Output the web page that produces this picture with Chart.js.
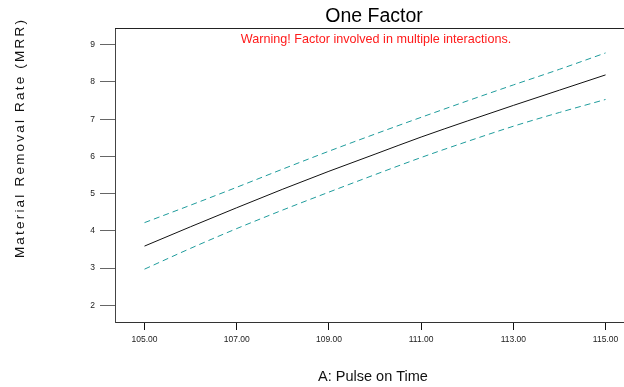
<!DOCTYPE html>
<html>
<head>
<meta charset="utf-8">
<script src="https://cdn.jsdelivr.net/npm/chart.js@4/dist/chart.umd.min.js"></script>
<style>
html,body{margin:0;padding:0;background:#fff;}
#wrap{width:624px;height:387px;position:relative;}
</style>
</head>
<body>
<div id="wrap"><canvas id="c" width="624" height="387"></canvas></div>
<script>
const xValues = [105,106,107,108,109,110,111,112,113,114,115];
const predicted = [3.59,4.11,4.62,5.12,5.60,6.06,6.52,6.95,7.37,7.78,8.19];
const upperCI  = [4.22,4.69,5.17,5.66,6.14,6.60,7.05,7.49,7.92,8.34,8.78];
const lowerCI  = [2.97,3.53,4.06,4.56,5.04,5.51,5.97,6.40,6.81,7.18,7.53];
const xTicks = [105,107,109,111,113,115];
const yTicks = [2,3,4,5,6,7,8,9];
const titleText = "One Factor";
const warningText = "Warning! Factor involved in multiple interactions.";
const xTitle = "A: Pulse on Time";
const yTitle = "Material Removal Rate (MRR)";

const pts = arr => xValues.map((x,i)=>({x:x,y:arr[i]}));
const FONT = "'Liberation Sans', Arial, sans-serif";

const textPlugin = {
  id:'texts',
  afterDraw(chart){
    const ctx = chart.ctx, a = chart.chartArea;
    ctx.save();
    ctx.strokeStyle = '#222'; ctx.lineWidth = 1;
    ctx.beginPath(); ctx.moveTo(a.left, a.top+0.5); ctx.lineTo(a.right, a.top+0.5); ctx.stroke();
    ctx.textAlign='center'; ctx.textBaseline='middle';
    ctx.fillStyle='#000';
    ctx.font = "19.5px " + FONT;
    ctx.fillText(titleText, 374, 17);
    ctx.fillStyle='#ff1a1a';
    ctx.font = "12.6px " + FONT;
    ctx.fillText(warningText, 376, 40);
    ctx.fillStyle='#111';
    ctx.font = "14.5px " + FONT;
    ctx.fillText(xTitle, 373, 377);
    ctx.translate(20, 138);
    ctx.rotate(-Math.PI/2);
    ctx.font = "13.5px " + FONT;
    ctx.fillStyle='#111';
    ctx.letterSpacing = '2.2px';
    ctx.fillText(yTitle, 0, 0);
    ctx.restore();
  }
};

new Chart(document.getElementById('c'), {
  type:'line',
  data:{
    datasets:[
      {data:pts(predicted), borderColor:'#111', borderWidth:1, pointRadius:0, cubicInterpolationMode:'monotone', fill:false},
      {data:pts(upperCI), borderColor:'#1f9c9c', borderWidth:1, borderDash:[6,4], pointRadius:0, cubicInterpolationMode:'monotone', fill:false},
      {data:pts(lowerCI), borderColor:'#1f9c9c', borderWidth:1, borderDash:[6,4], pointRadius:0, cubicInterpolationMode:'monotone', fill:false}
    ]
  },
  options:{
    responsive:false, animation:false,
    layout:{padding:{top:28,left:0,right:0,bottom:0}},
    plugins:{legend:{display:false}, tooltip:{enabled:false}, title:{display:false}},
    scales:{
      x:{
        type:'linear', min:104.36, max:115.4,
        afterBuildTicks(s){ s.ticks = xTicks.map(v=>({value:v})); },
        afterFit(s){ s.height = 65; },
        grid:{drawOnChartArea:false, drawTicks:true, tickLength:8, color:'#111', tickColor:'#111'},
        border:{display:true, color:'#333', width:1},
        ticks:{autoSkip:false, maxRotation:0, padding:5, color:'#222', font:{family:FONT, size:8.5},
          callback:v=>Number(v).toFixed(2)}
      },
      y:{
        type:'linear', min:1.55, max:9.45,
        afterBuildTicks(s){ s.ticks = yTicks.map(v=>({value:v})); },
        afterFit(s){ s.width = 115; },
        grid:{drawOnChartArea:false, drawTicks:true, tickLength:15, color:'#666', tickColor:'#666'},
        border:{display:true, color:'#444', width:1},
        ticks:{autoSkip:false, padding:5, color:'#222', font:{family:FONT, size:8.5},
          callback:v=>String(v)}
      }
    }
  },
  plugins:[textPlugin]
});
</script>
</body>
</html>
